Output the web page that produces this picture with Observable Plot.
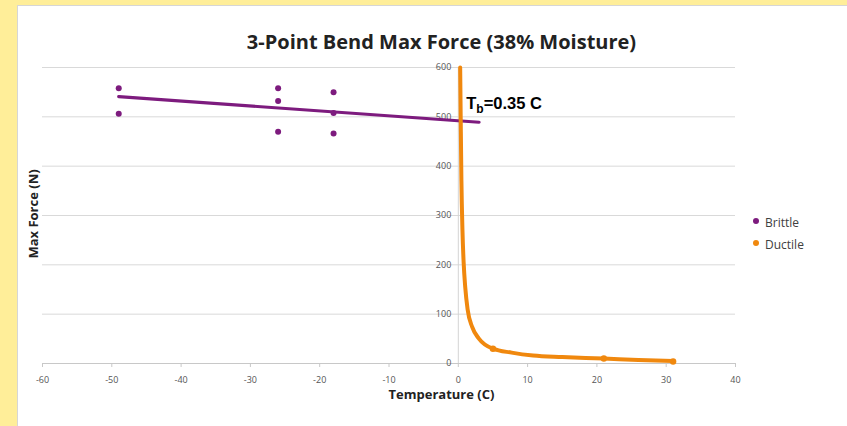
<!DOCTYPE html>
<html><head><meta charset="utf-8">
<script src="https://cdn.jsdelivr.net/npm/d3@7"></script>
<script src="https://cdn.jsdelivr.net/npm/@observablehq/plot@0.6"></script>
<style>
html,body{margin:0;padding:0;width:847px;height:426px;overflow:hidden;background:#FFEE99;font-family:"Open Sans",sans-serif;}
#panel{position:absolute;left:17px;top:5px;right:0;bottom:0;background:#fff;border-left:1px solid #d6d6d6;border-top:1px solid #d6d6d6;}
#chart{position:absolute;left:0;top:0;}
#title{position:absolute;left:0;width:883px;top:29px;text-align:center;font-weight:bold;font-size:20px;color:#222;line-height:26px;}
#xlabel{position:absolute;left:0;width:883px;top:385px;text-align:center;font-weight:bold;font-size:13px;color:#222;line-height:18px;}
#ylabel{position:absolute;left:33px;top:214px;transform:translate(-50%,-50%) rotate(-90deg);font-weight:bold;font-size:13px;color:#222;white-space:nowrap;}
#legend{position:absolute;left:753px;top:212px;font-size:12px;color:#404040;line-height:22px;}
#legend .sw{display:inline-block;width:6px;height:6px;border-radius:50%;margin-right:6px;vertical-align:middle;position:relative;top:-3px;}
</style></head>
<body>
<div id="panel"></div>
<div id="chart"></div>
<div id="title">3-Point Bend Max Force (38% Moisture)</div>
<div id="xlabel">Temperature (C)</div>
<div id="ylabel">Max Force (N)</div>
<div id="legend"></div>
<script>
// Data
const brittleT = [-49, -49, -26, -26, -26, -18, -18, -18];
const brittleF = [558, 506, 558, 532, 470, 550, 508, 466];
const ductileT = [5, 21, 31];
const ductileF = [30, 10, 4];
// Trend lines
const brittleTrendT = [-49, 3];
const brittleTrendF = [541, 489];
const ductileTrendT = [0.27, 0.35, 0.45, 0.6, 0.77, 1.0, 1.34, 2.0, 3.0, 5, 7.7, 10.8, 15, 21, 26, 31];
const ductileTrendF = [600, 492, 370, 270, 205, 155, 110, 74, 50, 30, 22, 16, 13, 10, 7, 5];
const xTicks = [-60, -50, -40, -30, -20, -10, 0, 10, 20, 30, 40];
const yTicks = [0, 100, 200, 300, 400, 500, 600];
const seriesNames = ["Brittle", "Ductile"];
const seriesColors = ["#7D1B7E", "#F0880E"];
const annotation = {t: 1.15, f: 526, main: "T", sub: "b", rest: "=0.35 C"};

const brittle = brittleT.map((t, i) => ({t, f: brittleF[i]}));
const ductile = ductileT.map((t, i) => ({t, f: ductileF[i]}));
const bTrend = brittleTrendT.map((t, i) => ({t, f: brittleTrendF[i]}));
const dTrend = ductileTrendT.map((t, i) => ({t, f: ductileTrendF[i]}));

const plot = Plot.plot({
  width: 847, height: 426,
  marginLeft: 42, marginRight: 112, marginTop: 67, marginBottom: 63,
  style: {background: "transparent", fontFamily: "Open Sans, sans-serif"},
  x: {domain: [-60, 40]},
  y: {domain: [0, 600]},
  marks: [
    Plot.ruleY(yTicks.filter(d => d > 0), {stroke: "#d9d9d9", strokeWidth: 1}),
    Plot.ruleY([0], {stroke: "#c8c8c8", strokeWidth: 1}),
    Plot.ruleX([0], {y1: 0, y2: 600, stroke: "#d4d4d4", strokeWidth: 1}),
    Plot.axisX({ticks: xTicks, tickSize: 4, tickPadding: 9, tickFormat: d => String(d), stroke: "#c8c8c8", color: "#555", fontSize: 9, label: null}),
    Plot.axisY({ticks: [], label: null}),
    Plot.text(yTicks, {x: () => 0, y: d => d, text: d => String(d), dx: -7, textAnchor: "end", fill: "#555", fontSize: 9}),
    Plot.dot(brittle, {x: "t", y: "f", r: 3, fill: seriesColors[0], stroke: "none"}),
    Plot.line(bTrend, {x: "t", y: "f", stroke: seriesColors[0], strokeWidth: 3.2}),
    Plot.dot(ductile, {x: "t", y: "f", r: 3.2, fill: seriesColors[1], stroke: "none"}),
    Plot.line(dTrend, {x: "t", y: "f", stroke: seriesColors[1], strokeWidth: 4, curve: "monotone-x"}),
    Plot.text([annotation], {x: "t", y: "f", text: d => d.main + d.sub + d.rest, textAnchor: "start", fontSize: 16.5, fontWeight: "bold", fill: "#000", fontFamily: "Liberation Sans, Arial, sans-serif", className: "tb-annot"})
  ]
});
document.getElementById("chart").appendChild(plot);

// subscript formatting of the annotation
d3.select(plot).selectAll(".tb-annot text").each(function() {
  const el = d3.select(this);
  el.text(null);
  el.append("tspan").text(annotation.main);
  el.append("tspan").attr("font-size", 12).attr("dy", 4).text(annotation.sub);
  el.append("tspan").attr("dy", -4).text(annotation.rest);
});

const legend = d3.select("#legend");
seriesNames.forEach((n, i) => {
  const row = legend.append("div");
  row.append("span").attr("class", "sw").style("background", seriesColors[i]);
  row.append("span").text(n);
});
</script>
</body></html>
